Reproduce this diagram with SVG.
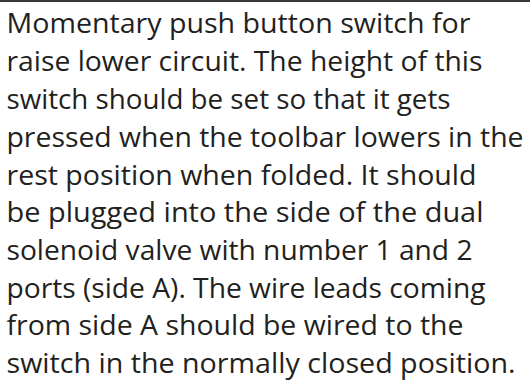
<svg xmlns="http://www.w3.org/2000/svg" width="530" height="385" viewBox="0 0 530 385">
<style>
.t{font-family:"Open Sans","Noto Sans","Liberation Sans",sans-serif;font-size:28px;fill:#231f20}
</style>
<rect x="0" y="0" width="530" height="385" fill="#ffffff"/>
<line x1="0" y1="1" x2="530" y2="1" stroke="#3a3a3a" stroke-width="2"/>
<g id="note">
<text class="t" x="6.5" y="33.3" textLength="464" lengthAdjust="spacingAndGlyphs">Momentary push button switch for</text>
<text class="t" x="6.5" y="71" textLength="476" lengthAdjust="spacingAndGlyphs">raise lower circuit. The height of this</text>
<text class="t" x="6.5" y="108.8" textLength="444" lengthAdjust="spacingAndGlyphs">switch should be set so that it gets</text>
<text class="t" x="6.5" y="146.5" textLength="517" lengthAdjust="spacingAndGlyphs">pressed when the toolbar lowers in the</text>
<text class="t" x="6.5" y="184.8" textLength="470" lengthAdjust="spacingAndGlyphs">rest position when folded. It should</text>
<text class="t" x="6.5" y="222" textLength="477" lengthAdjust="spacingAndGlyphs">be plugged into the side of the dual</text>
<text class="t" x="6.5" y="259.8" textLength="466" lengthAdjust="spacingAndGlyphs">solenoid valve with number 1 and 2</text>
<text class="t" x="6.5" y="297.5" textLength="479" lengthAdjust="spacingAndGlyphs">ports (side A). The wire leads coming</text>
<text class="t" x="6.5" y="335.3" textLength="457" lengthAdjust="spacingAndGlyphs">from side A should be wired to the</text>
<text class="t" x="6.5" y="373" textLength="509" lengthAdjust="spacingAndGlyphs">switch in the normally closed position.</text>
</g>
</svg>
